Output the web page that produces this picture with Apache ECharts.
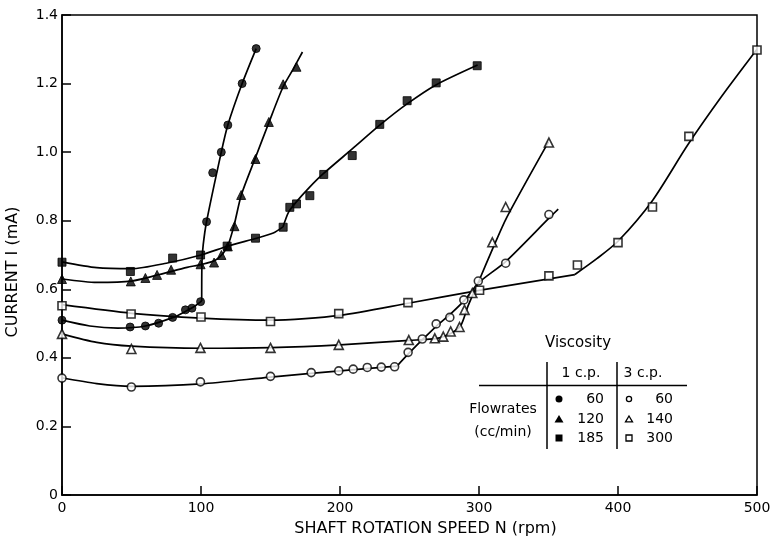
<!DOCTYPE html>
<html><head><meta charset="utf-8">
<script src="https://cdn.jsdelivr.net/npm/echarts@6/dist/echarts.min.js"></script>
<style>html,body{margin:0;padding:0;background:#fff}#c{width:774px;height:538px}</style>
</head><body><div id="c"></div><script>
// ---- axis ticks ----
const xTicks = [0, 100, 200, 300, 400, 500];
const yTicks = [0, 0.2, 0.4, 0.6, 0.8, 1.0, 1.2, 1.4];

// ---- 1 c.p. (filled markers) ----  curves are lists of smooth segments
const fc60Points = [[0,0.51],[49,0.49],[60,0.493],[69.5,0.501],[79.6,0.518],[88.8,0.54],[93.5,0.545],[99.7,0.564],[104,0.797],[108.4,0.94],[114.6,1.0],[119.3,1.079],[129.6,1.2],[139.7,1.302]];
const fc60Curve = [
  [[0,0.51],[20,0.493],[40,0.487],[60,0.493],[80,0.518],[90,0.538],[96,0.552],[100.5,0.566]],
  [[100.5,0.566],[100.7,0.68],[101.6,0.73],[104,0.797],[114.6,1.0],[119.3,1.079],[129.6,1.2],[139.7,1.302]]
];

const ft120Points = [[0,0.63],[49.5,0.623],[60,0.633],[68.4,0.642],[78.5,0.657],[99.7,0.673],[109.4,0.678],[114.7,0.70],[119.3,0.725],[124.1,0.784],[128.9,0.875],[139.2,0.98],[148.8,1.088],[159.1,1.198],[168.7,1.249]];
const ft120Curve = [
  [[0,0.63],[25,0.62],[50,0.624],[70,0.643],[90,0.664],[100,0.672],[110,0.684],[116,0.705],[120,0.735],[124,0.79],[129,0.875],[139,0.982],[149,1.088],[159,1.19],[166,1.24],[173,1.292]]
];

const fs185Points = [[0,0.679],[49.2,0.652],[79.6,0.691],[99.7,0.70],[118.8,0.726],[139.2,0.749],[159.1,0.781],[163.9,0.839],[168.7,0.849],[178.3,0.873],[188.3,0.935],[208.8,0.99],[228.6,1.081],[248.3,1.15],[269.2,1.202],[298.7,1.252]];
const fs185Curve = [
  [[0,0.68],[25,0.663],[50,0.66],[75,0.676],[100,0.70],[120,0.727],[140,0.749],[152,0.764],[159,0.782]],
  [[159,0.782],[163,0.825],[168,0.852],[178,0.897],[188,0.937],[209,1.01],[229,1.08],[248,1.14],[269,1.196],[299,1.254]]
];

// ---- 3 c.p. (open markers) ----
const oc60Points = [[0,0.341],[49.9,0.315],[99.6,0.33],[150,0.346],[179.3,0.357],[199.1,0.362],[209.5,0.367],[219.6,0.372],[229.7,0.373],[239.3,0.374],[249,0.416],[259.2,0.455],[269.2,0.499],[279,0.518],[289.1,0.569],[299.5,0.624],[319.2,0.676],[350.3,0.818]];
const oc60Curve = [
  [[0,0.342],[25,0.325],[50,0.317],[100,0.324],[150,0.344],[200,0.362],[241,0.376]],
  [[241,0.376],[250,0.415],[260,0.456],[270,0.495],[280,0.53],[290,0.57],[300,0.62],[319,0.68],[350,0.806],[357,0.834]]
];

const ot140Points = [[0,0.47],[49.9,0.426],[99.6,0.429],[150,0.429],[199.1,0.438],[249.5,0.452],[268.2,0.457],[274.3,0.462],[279.6,0.477],[286,0.49],[289.6,0.54],[295.2,0.589],[309.6,0.737],[319.2,0.84],[350.3,1.028]];
const ot140Curve = [
  [[0,0.47],[25,0.445],[50,0.434],[100,0.428],[150,0.43],[200,0.438],[250,0.451],[270,0.457],[280,0.472],[287,0.495],[292,0.55],[300,0.625],[310,0.72],[320,0.81],[350,1.03]]
];

const os300Points = [[0,0.552],[49.7,0.528],[100,0.519],[150,0.506],[199.1,0.529],[248.9,0.561],[300.4,0.597],[350.3,0.639],[370.8,0.671],[400,0.736],[424.8,0.84],[451,1.046],[500,1.298]];
const os300Curve = [
  [[0,0.555],[50,0.53],[100,0.516],[150,0.51],[200,0.524],[250,0.56],[300,0.597]],
  [[300,0.597],[369,0.643]],
  [[369,0.643],[385,0.69],[400,0.74],[425,0.86],[450,1.02],[475,1.165],[500,1.3]]
];

// ---- legend table text ----
const legendTitle = 'Viscosity';
const legendCols = ['1 c.p.', '3 c.p.'];
const legendRowLabel = ['Flowrates', '(cc/min)'];
const flow1 = ['60', '120', '185'];
const flow3 = ['60', '140', '300'];

const FONT = 'DejaVu Sans';
const chart = echarts.init(document.getElementById('c'), null, {renderer: 'canvas'});

function curves(segs) {
  return segs.map(seg => ({type: 'line', data: seg, showSymbol: false, smooth: 0.25, silent: true,
    lineStyle: {color: '#000', width: 1.7}, z: 2}));
}
function marks(data, symbol, filled, size) {
  return {type: 'scatter', data: data, symbol: symbol, symbolSize: size, silent: true,
    itemStyle: filled ? {color: '#000', borderColor: '#000', borderWidth: 1}
                      : {color: '#fff', borderColor: '#000', borderWidth: 1.6}, z: 3};
}

const blk = {stroke: '#000', lineWidth: 1.5};
const tx = (x, y, text, size, align) => ({type: 'text', x: x, y: y, z: 10,
  style: {text: text, fill: '#000', font: size + 'px "' + FONT + '"', textAlign: align || 'center', textVerticalAlign: 'middle'}});

const rowsY = [399, 419, 438];
const graphics = [
  tx(578, 343, legendTitle, 15),
  {type: 'line', shape: {x1: 547, y1: 362, x2: 547, y2: 449}, style: blk, z: 10},
  {type: 'line', shape: {x1: 617, y1: 362, x2: 617, y2: 449}, style: blk, z: 10},
  {type: 'line', shape: {x1: 479, y1: 385.5, x2: 687, y2: 385.5}, style: blk, z: 10},
  tx(581, 373, legendCols[0], 14),
  tx(643, 373, legendCols[1], 14),
  tx(503, 409, legendRowLabel[0], 14),
  tx(503, 432, legendRowLabel[1], 14),
  {type: 'circle', shape: {cx: 559, cy: rowsY[0], r: 3.5}, style: {fill: '#000'}, z: 10},
  {type: 'polygon', shape: {points: [[559, rowsY[1]-4], [563.5, rowsY[1]+3.5], [554.5, rowsY[1]+3.5]]}, style: {fill: '#000'}, z: 10},
  {type: 'rect', shape: {x: 555.5, y: rowsY[2]-3.5, width: 7, height: 7}, style: {fill: '#000'}, z: 10},
  {type: 'circle', shape: {cx: 629, cy: rowsY[0], r: 2.6}, style: {fill: '#fff', stroke: '#000', lineWidth: 1.3}, z: 10},
  {type: 'polygon', shape: {points: [[629, rowsY[1]-3], [632.5, rowsY[1]+2.8], [625.5, rowsY[1]+2.8]]}, style: {fill: '#fff', stroke: '#000', lineWidth: 1.3}, z: 10},
  {type: 'rect', shape: {x: 626, y: rowsY[2]-3, width: 6, height: 6}, style: {fill: '#fff', stroke: '#000', lineWidth: 1.3}, z: 10}
];
flow1.forEach((t, i) => graphics.push(tx(604, rowsY[i], t, 14, 'right')));
flow3.forEach((t, i) => graphics.push(tx(673, rowsY[i], t, 14, 'right')));

chart.setOption({
  animation: false,
  backgroundColor: '#fff',
  textStyle: {fontFamily: FONT, color: '#000'},
  grid: {left: 62, right: 17, top: 15, bottom: 43, show: true, borderColor: '#000', borderWidth: 1.5,
    backgroundColor: 'transparent', containLabel: false, outerBoundsMode: 'none'},
  xAxis: {
    type: 'value', min: xTicks[0], max: xTicks[xTicks.length-1], interval: xTicks[1]-xTicks[0],
    name: 'SHAFT ROTATION SPEED N (rpm)', nameLocation: 'middle', nameGap: 26,
    nameTextStyle: {fontFamily: FONT, fontSize: 16, color: '#000', padding: [0, 0, 0, 32]},
    axisLine: {lineStyle: {color: '#000', width: 1.5}},
    axisTick: {inside: true, length: 9, lineStyle: {color: '#000', width: 1.5}},
    axisLabel: {fontFamily: FONT, fontSize: 14, color: '#000', margin: 6},
    splitLine: {show: false}
  },
  yAxis: {
    type: 'value', min: yTicks[0], max: yTicks[yTicks.length-1], interval: yTicks[1]-yTicks[0],
    name: 'CURRENT I (mA)', nameLocation: 'middle', nameGap: 41, nameRotate: 90,
    nameTextStyle: {fontFamily: FONT, fontSize: 16, color: '#000', padding: [0, 34, 0, 0]},
    axisLine: {lineStyle: {color: '#000', width: 1.5}},
    axisTick: {inside: true, length: 9, lineStyle: {color: '#000', width: 1.5}},
    axisLabel: {fontFamily: FONT, fontSize: 14, color: '#000', margin: 4,
      formatter: v => v === 0 ? '0' : v.toFixed(1)},
    splitLine: {show: false}
  },
  series: [].concat(
    curves(fc60Curve), curves(ft120Curve), curves(fs185Curve),
    curves(oc60Curve), curves(ot140Curve), curves(os300Curve),
    [
      marks(fc60Points, 'circle', true, 8),
      marks(ft120Points, 'triangle', true, 9),
      marks(fs185Points, 'rect', true, 8),
      marks(oc60Points, 'circle', false, 8),
      marks(ot140Points, 'triangle', false, 9),
      marks(os300Points, 'rect', false, 8)
    ]
  ),
  graphic: graphics
});
</script></body></html>
